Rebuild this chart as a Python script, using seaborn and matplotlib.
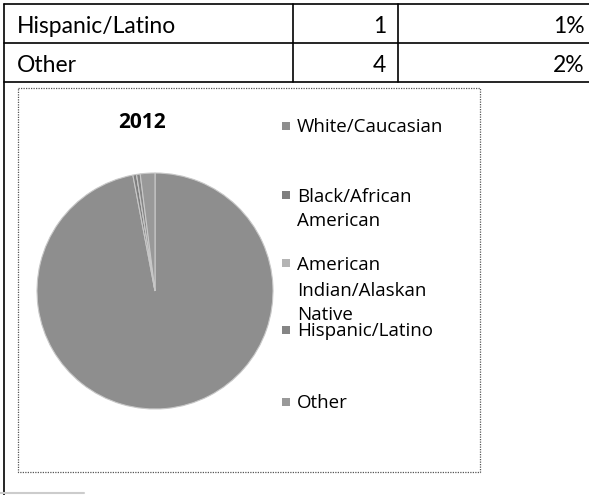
import matplotlib
matplotlib.use("Agg")
import matplotlib.pyplot as plt
import seaborn as sns

# Table rows shown above the chart
table_groups = ["Hispanic/Latino", "Other"]
table_counts = [1, 4]
table_pcts = ["1%", "2%"]

# 2012 enrollment by race/ethnicity
chart_title = "2012"
groups = ["White/Caucasian", "Black/African\nAmerican", "American\nIndian/Alaskan\nNative",
          "Hispanic/Latino", "Other"]
counts = [194, 1, 0, 1, 4]

sns.set_theme(style="white")
plt.rcParams["font.family"] = ["Lato", "DejaVu Sans"]

slice_colors = ["#8e8e8e", "#7f7f7f", "#b4b4b4", "#858585", "#999999"]

W, H = 589, 495
fig = plt.figure(figsize=(W / 100, H / 100), dpi=100)
fig.patch.set_facecolor("white")

# Page layer in pixel coordinates (table grid, chart frame, text)
page = fig.add_axes([0, 0, 1, 1])
page.set_xlim(0, W)
page.set_ylim(H, 0)
page.axis("off")

line_kw = dict(color="black", lw=1.2)
# table grid
page.plot([4, W], [4, 4], **line_kw)
page.plot([4, W], [43, 43], **line_kw)
page.plot([4, W], [82, 82], **line_kw)
page.plot([4, 4], [4, H], **line_kw)
page.plot([293, 293], [4, 82], **line_kw)
page.plot([398, 398], [4, 82], **line_kw)

row_baseline = [33, 72]
for y, g, c, p in zip(row_baseline, table_groups, table_counts, table_pcts):
    page.text(17, y, g, fontsize=16.5, va="baseline", ha="left", color="black")
    page.text(386, y, str(c), fontsize=16.5, va="baseline", ha="right", color="black")
    page.text(585, y, p, fontsize=16.5, va="baseline", ha="right", color="black")

# dotted chart frame
frame_kw = dict(color="#555555", lw=0.9, ls=(0, (1, 1)))
page.plot([18, 480, 480, 18, 18], [88, 88, 472, 472, 88], **frame_kw)
page.plot([0, 84], [493, 493], color="#cccccc", lw=1.5)

page.text(142, 128, chart_title, fontsize=15, fontweight="bold", ha="center", va="baseline",
          color="black", family=["Open Sans", "DejaVu Sans"])

# pie
cx, cy, r = 155, 291, 118
pie_ax = fig.add_axes([(cx - r) / W, (H - cy - r) / H, 2 * r / W, 2 * r / H])
pie_ax.pie(counts, colors=slice_colors, startangle=90, counterclock=False,
           wedgeprops=dict(edgecolor="#c8c8c8", linewidth=0.8))
pie_ax.set_xlim(-1.0, 1.0)
pie_ax.set_ylim(-1.0, 1.0)
pie_ax.set_aspect("equal")
pie_ax.axis("off")

# legend: marker row centre and per-line vertical positions
legend_line_y = [[126], [195, 220], [263, 290, 313], [330], [402]]
for ys, g, col in zip(legend_line_y, groups, slice_colors):
    page.add_patch(plt.Rectangle((282, ys[0] - 4), 8, 8, facecolor=col, edgecolor="none"))
    for y, part in zip(ys, g.split("\n")):
        page.text(297, y + 6.5, part, fontsize=13.5, ha="left", va="baseline",
                  color="black", family=["Open Sans", "DejaVu Sans"])

fig.savefig("out.png", dpi=100, facecolor="white")
